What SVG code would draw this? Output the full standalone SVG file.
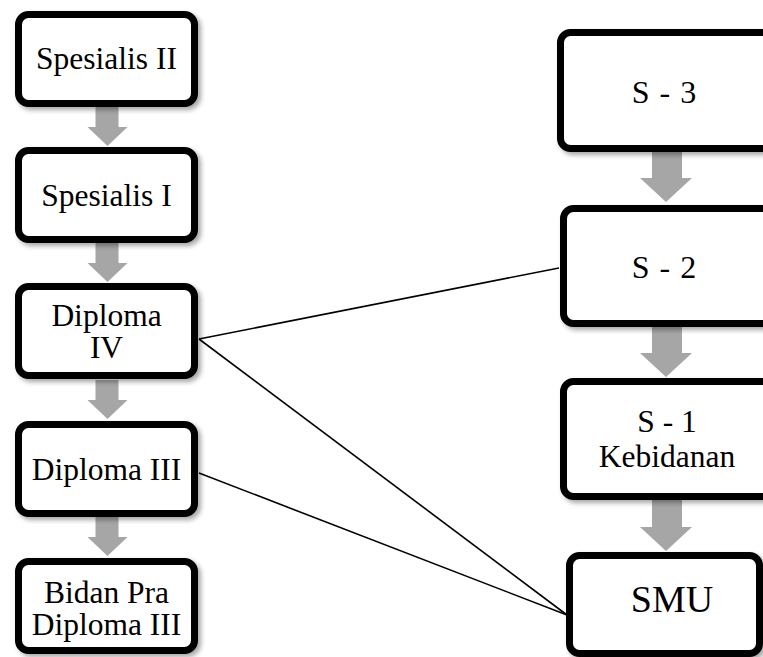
<svg xmlns="http://www.w3.org/2000/svg" width="763" height="657" viewBox="0 0 763 657">
<defs>
<filter id="sh" x="-10%" y="-10%" width="130%" height="130%">
<feGaussianBlur in="SourceAlpha" stdDeviation="2.5"/>
<feOffset dx="3" dy="3" result="b"/>
<feComponentTransfer><feFuncA type="linear" slope="0.35"/></feComponentTransfer>
<feMerge><feMergeNode/><feMergeNode in="SourceGraphic"/></feMerge>
</filter>
</defs>
<style>
.box{fill:#fff;stroke:#000;stroke-width:7;filter:url(#sh)}
.arr{fill:#a6a6a6}
.t{font-family:"Liberation Serif","Times New Roman",serif;font-size:31.5px;fill:#000;text-anchor:middle}
.tb{font-size:32px;word-spacing:2px}
.ts{font-size:38px}
.ln{stroke:#000;stroke-width:1.6;fill:none}
</style>
<rect width="763" height="657" fill="#fff"/>
<g id="arrows">
<path class="arr" d="M95.5,107h23v20h9l-20,19l-20,-19h8z"/>
<path class="arr" d="M95.5,243h23v20h9l-20,19l-20,-19h8z"/>
<path class="arr" d="M95.5,380h23v20h9l-20,19l-20,-19h8z"/>
<path class="arr" d="M95.5,517h23v20h9l-20,19l-20,-19h8z"/>
<path class="arr" d="M652,152h30v26h10l-26,24l-26,-24h12z"/>
<path class="arr" d="M652,327h30v26h10l-26,24l-26,-24h12z"/>
<path class="arr" d="M652,500h30v27h10l-26,24l-26,-24h12z"/>
</g>
<g id="connectors">
<line class="ln" x1="199" y1="339" x2="559" y2="268"/>
<line class="ln" x1="199" y1="339" x2="567" y2="615"/>
<line class="ln" x1="199" y1="473" x2="567" y2="615"/>
</g>
<g id="spesialis2"><rect class="box" x="18.5" y="14.5" width="176" height="89" rx="10"/><text class="t" x="106.5" y="69">Spesialis II</text></g>
<g id="spesialis1"><rect class="box" x="18.5" y="150.5" width="176" height="89" rx="10"/><text class="t" x="106.5" y="206">Spesialis I</text></g>
<g id="diploma4"><rect class="box" x="18.5" y="286.5" width="176" height="89" rx="10"/><text class="t" x="106.5" y="326">Diploma</text><text class="t" x="106.5" y="358">IV</text></g>
<g id="diploma3"><rect class="box" x="18.5" y="424.5" width="176" height="89" rx="10"/><text class="t" x="106.5" y="480">Diploma III</text></g>
<g id="bidan"><rect class="box" x="18.5" y="561.5" width="176" height="89" rx="10"/><text class="t" x="106.5" y="603">Bidan Pra</text><text class="t" x="106.5" y="635">Diploma III</text></g>
<g id="s3"><rect class="box" x="560.5" y="32.5" width="212" height="116" rx="10"/><text class="t tb" x="664" y="103">S - 3</text></g>
<g id="s2"><rect class="box" x="563.5" y="208.5" width="209" height="115" rx="10"/><text class="t tb" x="664" y="278">S - 2</text></g>
<g id="s1"><rect class="box" x="563.5" y="381.5" width="209" height="115" rx="10"/><text class="t" x="667" y="432">S - 1</text><text class="t" x="667" y="467">Kebidanan</text></g>
<g id="smu"><rect class="box" x="569.5" y="555.5" width="190" height="98" rx="10"/><text class="t ts" x="672" y="612">SMU</text></g>
</svg>
